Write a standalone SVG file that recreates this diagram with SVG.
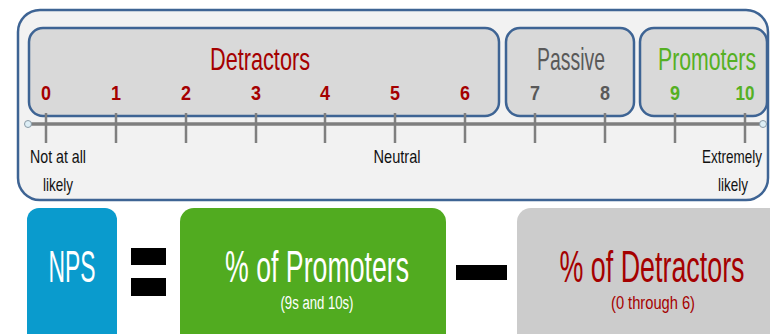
<svg xmlns="http://www.w3.org/2000/svg" width="770" height="334" viewBox="0 0 770 334">
<style>
.panel{fill:#F2F2F2;stroke:#3E6494;stroke-width:2.5}
.seg{fill:#D9D9D9;stroke:#3E6494;stroke-width:2.5}
.num{font-family:"Liberation Sans",Arial,sans-serif;font-weight:bold;font-size:20px;text-anchor:middle}
.red{fill:#A50000}
.grey{fill:#595959}
.green{fill:#55B023}
.head{font-family:"Liberation Sans",Arial,sans-serif;font-size:32px;text-anchor:middle}
.lbl{font-family:"Liberation Sans",Arial,sans-serif;font-size:19px;fill:#111;text-anchor:middle}
.tick{stroke:#7F7F7F;stroke-width:2.5}
.big{font-family:"Liberation Sans",Arial,sans-serif;font-size:44px;text-anchor:middle}
.small{font-family:"Liberation Sans",Arial,sans-serif;font-size:18px;text-anchor:middle}
</style>
<rect x="0" y="0" width="770" height="334" fill="#FFFFFF"/>
<g id="scale-panel">
<rect class="panel" x="18" y="10" width="750" height="190" rx="22"/>
</g>
<g id="detractors">
<rect class="seg" x="29" y="28" width="470" height="88" rx="14"/>
<text class="head red" x="260" y="70" textLength="100" lengthAdjust="spacingAndGlyphs">Detractors</text>
</g>
<g id="passive">
<rect class="seg" x="506" y="28" width="128" height="88" rx="14"/>
<text class="head grey" x="571" y="70" textLength="68" lengthAdjust="spacingAndGlyphs">Passive</text>
</g>
<g id="promoters">
<rect class="seg" x="640" y="28" width="127" height="88" rx="14"/>
<text class="head green" x="707" y="70" textLength="98" lengthAdjust="spacingAndGlyphs">Promoters</text>
</g>
<g id="numbers">
<text class="num red" x="46" y="100" textLength="10" lengthAdjust="spacingAndGlyphs">0</text>
<text class="num red" x="116" y="100" textLength="10" lengthAdjust="spacingAndGlyphs">1</text>
<text class="num red" x="186" y="100" textLength="10" lengthAdjust="spacingAndGlyphs">2</text>
<text class="num red" x="256" y="100" textLength="10" lengthAdjust="spacingAndGlyphs">3</text>
<text class="num red" x="325" y="100" textLength="10" lengthAdjust="spacingAndGlyphs">4</text>
<text class="num red" x="395" y="100" textLength="10" lengthAdjust="spacingAndGlyphs">5</text>
<text class="num red" x="465" y="100" textLength="10" lengthAdjust="spacingAndGlyphs">6</text>
<text class="num grey" x="535" y="100" textLength="10" lengthAdjust="spacingAndGlyphs">7</text>
<text class="num grey" x="605" y="100" textLength="10" lengthAdjust="spacingAndGlyphs">8</text>
<text class="num green" x="675" y="100" textLength="10" lengthAdjust="spacingAndGlyphs">9</text>
<text class="num green" x="745" y="100" textLength="19" lengthAdjust="spacingAndGlyphs">10</text>
</g>
<g id="connectors">
<line x1="28" y1="124" x2="763" y2="124" stroke="#7F7F7F" stroke-width="3.5"/>
<g class="tick">
<line x1="46" y1="113" x2="46" y2="143"/>
<line x1="116" y1="113" x2="116" y2="143"/>
<line x1="186" y1="113" x2="186" y2="143"/>
<line x1="256" y1="113" x2="256" y2="143"/>
<line x1="325" y1="113" x2="325" y2="143"/>
<line x1="395" y1="113" x2="395" y2="143"/>
<line x1="465" y1="113" x2="465" y2="143"/>
<line x1="535" y1="113" x2="535" y2="143"/>
<line x1="605" y1="113" x2="605" y2="143"/>
<line x1="675" y1="113" x2="675" y2="143"/>
<line x1="745" y1="113" x2="745" y2="143"/>
</g>
<circle cx="28" cy="124" r="3.5" fill="#DDEEF6" stroke="#8A9AA6" stroke-width="1"/>
<circle cx="763" cy="124" r="3.5" fill="#DDEEF6" stroke="#8A9AA6" stroke-width="1"/>
</g>
<g id="scale-labels">
<text class="lbl" x="58" y="163" textLength="56" lengthAdjust="spacingAndGlyphs">Not at all</text>
<text class="lbl" x="58" y="191" textLength="30" lengthAdjust="spacingAndGlyphs">likely</text>
<text class="lbl" x="397" y="163" textLength="47" lengthAdjust="spacingAndGlyphs">Neutral</text>
<text class="lbl" x="732" y="163" textLength="60" lengthAdjust="spacingAndGlyphs">Extremely</text>
<text class="lbl" x="733" y="191" textLength="30" lengthAdjust="spacingAndGlyphs">likely</text>
</g>
<g id="nps">
<rect x="27" y="208" width="90" height="140" rx="12" fill="#0A9BCD"/>
<text class="big" x="72" y="282" fill="#FFFFFF" font-size="40" textLength="47" lengthAdjust="spacingAndGlyphs">NPS</text>
</g>
<g id="equals">
<rect x="131" y="248" width="35" height="17" fill="#000000"/>
<rect x="131" y="278" width="35" height="18" fill="#000000"/>
</g>
<g id="pct-promoters">
<rect x="180" y="208" width="266" height="140" rx="14" fill="#51AB20"/>
<text class="big" x="317" y="282" fill="#FFFFFF" textLength="184" lengthAdjust="spacingAndGlyphs">% of Promoters</text>
<text class="small" x="317" y="309" fill="#FFFFFF" textLength="73" lengthAdjust="spacingAndGlyphs">(9s and 10s)</text>
</g>
<g id="minus">
<rect x="456" y="265" width="51" height="15" fill="#000000"/>
</g>
<g id="pct-detractors">
<rect x="517" y="208" width="280" height="140" rx="14" fill="#CCCCCC"/>
<text class="big" x="652" y="282" fill="#A50000" textLength="185" lengthAdjust="spacingAndGlyphs">% of Detractors</text>
<text class="small" x="653" y="309" fill="#A50000" textLength="84" lengthAdjust="spacingAndGlyphs">(0 through 6)</text>
</g>
</svg>
